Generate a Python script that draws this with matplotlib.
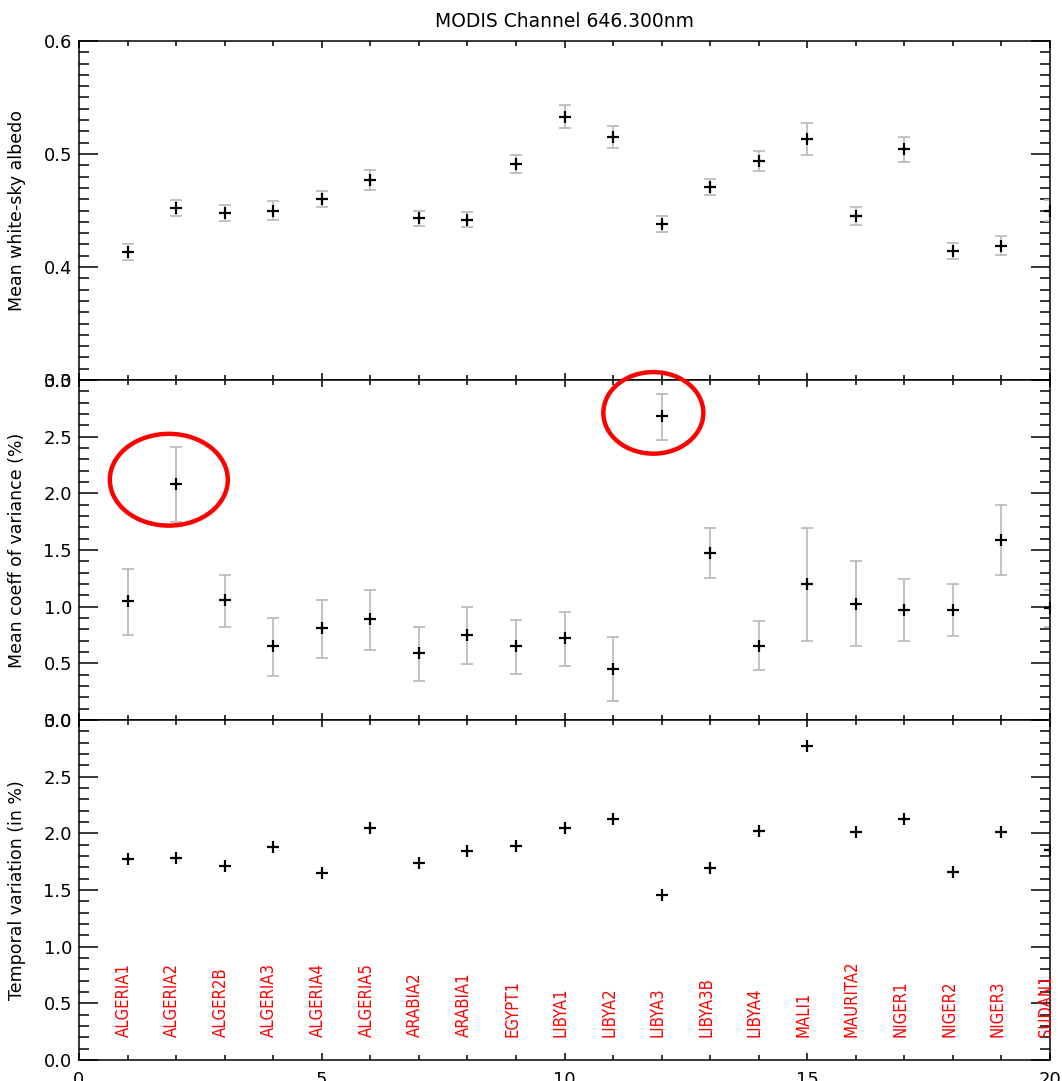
import matplotlib
matplotlib.use('Agg')
import matplotlib.pyplot as plt
from matplotlib.patches import Ellipse
from matplotlib.ticker import MultipleLocator, FormatStrFormatter
import numpy as np

sites = ['ALGERIA1', 'ALGERIA2', 'ALGER2B', 'ALGERIA3', 'ALGERIA4', 'ALGERIA5',
         'ARABIA2', 'ARABIA1', 'EGYPT1', 'LIBYA1', 'LIBYA2', 'LIBYA3', 'LIBYA3B',
         'LIBYA4', 'MALI1', 'MAURITA2', 'NIGER1', 'NIGER2', 'NIGER3', 'SUDAN1']
site_idx = np.arange(1, 21)

albedo = [0.413, 0.452, 0.448, 0.450, 0.460, 0.477, 0.443, 0.442, 0.491, 0.533,
          0.515, 0.438, 0.471, 0.494, 0.513, 0.445, 0.504, 0.414, 0.419, 0.450]
albedo_err = [0.007, 0.007, 0.007, 0.008, 0.007, 0.009, 0.007, 0.007, 0.008, 0.010,
              0.010, 0.007, 0.007, 0.009, 0.014, 0.008, 0.011, 0.007, 0.008, 0.009]

cov = [1.05, 2.08, 1.06, 0.65, 0.81, 0.89, 0.59, 0.75, 0.65, 0.72,
       0.45, 2.68, 1.47, 0.65, 1.20, 1.02, 0.97, 0.97, 1.59, 0.99]
cov_hi = [1.33, 2.41, 1.28, 0.90, 1.06, 1.15, 0.82, 1.00, 0.88, 0.95,
          0.73, 2.88, 1.69, 0.87, 1.69, 1.40, 1.24, 1.20, 1.90, 1.15]
cov_lo = [0.75, 1.75, 0.82, 0.39, 0.55, 0.62, 0.34, 0.49, 0.41, 0.48,
          0.17, 2.47, 1.25, 0.44, 0.70, 0.65, 0.70, 0.74, 1.28, 0.82]

temporal = [1.77, 1.78, 1.71, 1.88, 1.65, 2.05, 1.74, 1.84, 1.89, 2.05,
            2.13, 1.46, 1.69, 2.02, 2.77, 2.01, 2.13, 1.66, 2.01, 1.85]

fig = plt.figure(figsize=(10.62, 10.81), dpi=100)
left, width = 79 / 1062, (1050 - 79) / 1062
H = 1081
tops = [41, 380, 720]
bots = [380, 720, 1060]
axes = []
for t, b in zip(tops, bots):
    axes.append(fig.add_axes([left, 1 - b / H, width, (b - t) / H]))

err_kw = dict(fmt='none', ecolor='#bdbdbd', elinewidth=1.3, capsize=4, capthick=1.3)
pt_kw = dict(marker='+', color='black', linestyle='none', markersize=9, markeredgewidth=1.6)

ax1, ax2, ax3 = axes
ax1.errorbar(site_idx, albedo, yerr=albedo_err, **err_kw)
ax1.plot(site_idx, albedo, **pt_kw)
ax1.set_ylim(0.3, 0.6)
ax1.yaxis.set_major_locator(MultipleLocator(0.1))
ax1.yaxis.set_minor_locator(MultipleLocator(0.01))
ax1.set_ylabel('Mean white-sky albedo', fontsize=12.5)
ax1.set_title('MODIS Channel 646.300nm', fontsize=13.5, pad=10)

cov = np.array(cov)
yerr = [cov - np.array(cov_lo), np.array(cov_hi) - cov]
ax2.errorbar(site_idx, cov, yerr=yerr, **err_kw)
ax2.plot(site_idx, cov, **pt_kw)
ax2.set_ylim(0, 3)
ax2.set_ylabel('Mean coeff of variance (%)', fontsize=12.5)

ax3.plot(site_idx, temporal, **pt_kw)
ax3.set_ylim(0, 3)
ax3.set_ylabel('Temporal variation (in %)', fontsize=12.5)
for x, name in zip(site_idx, sites):
    ax3.text(x - 0.08, 0.2, name, rotation=90, color='red', ha='center', va='bottom',
             fontsize=12, fontstretch='condensed')

for ax in (ax2, ax3):
    ax.yaxis.set_major_locator(MultipleLocator(0.5))
    ax.yaxis.set_minor_locator(MultipleLocator(0.1))

for ax in axes:
    ax.set_xlim(0, 20)
    ax.xaxis.set_major_locator(MultipleLocator(5))
    ax.xaxis.set_minor_locator(MultipleLocator(1))
    ax.yaxis.set_major_formatter(FormatStrFormatter('%.1f'))
    ax.tick_params(axis='y', which='major', direction='in', length=14, width=1.1,
                   left=True, right=True, labelsize=13, pad=5)
    ax.tick_params(axis='y', which='minor', direction='in', length=7, width=1.1,
                   left=True, right=True)
    ax.tick_params(axis='x', which='major', direction='in', length=5, width=1.1,
                   top=True, bottom=True, labelsize=13, pad=8)
    ax.tick_params(axis='x', which='minor', direction='in', length=3.5, width=1.1,
                   top=True, bottom=True)
    ax.yaxis.set_label_coords(-0.055, 0.5)
    for s in ax.spines.values():
        s.set_linewidth(1.1)
for ax in (ax1, ax2):
    ax.tick_params(axis='x', labelbottom=False)

# red circles marking the outliers
ax2.add_patch(Ellipse((1.85, 2.12), 2.43, 0.81, fill=False, edgecolor='red',
                      linewidth=3.2, clip_on=False, zorder=5))
ax2.add_patch(Ellipse((11.83, 2.71), 2.06, 0.72, fill=False, edgecolor='red',
                      linewidth=3.2, clip_on=False, zorder=5))

fig.savefig('out.png', dpi=100)
